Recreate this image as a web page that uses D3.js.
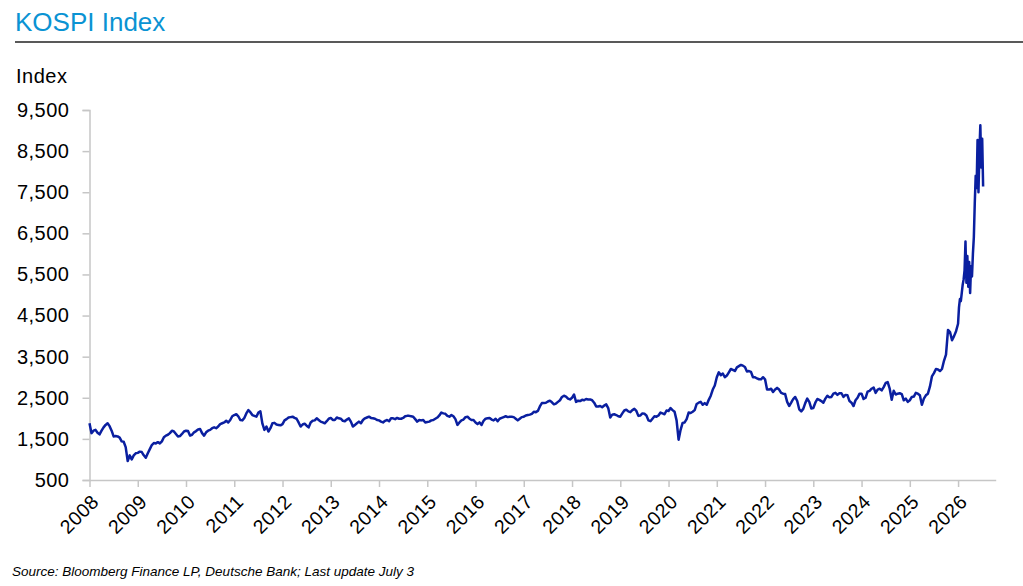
<!DOCTYPE html>
<html>
<head>
<meta charset="utf-8">
<script src="https://cdn.jsdelivr.net/npm/d3@7"></script>
<style>
  html, body { margin: 0; padding: 0; background: #fff; }
  svg { display: block; font-family: "Liberation Sans", Arial, Helvetica, sans-serif; }
</style>
</head>
<body>
<svg id="chart" width="1023" height="586"></svg>
<script>
// ---- DATA (KOSPI index, semi-monthly readings; 2026 weekly) ----
const title = "KOSPI Index";
const yAxisLabel = "Index";
const sourceNote = "Source: Bloomberg Finance LP, Deutsche Bank; Last update July 3";
const yearTicks = [2008,2009,2010,2011,2012,2013,2014,2015,2016,2017,2018,2019,2020,2021,2022,2023,2024,2025,2026];
const valueTicks = [500,1500,2500,3500,4500,5500,6500,7500,8500,9500];

const k2008 = [1880,1640,1700,1720,1650,1610,1700,1780,1840,1880,1810,1700,1560,1570,1560,1530,1440,1430,1300,960,1100,1000,1100,1150];
const k2009 = [1160,1190,1180,1100,1040,1150,1250,1350,1400,1390,1420,1390,1440,1540,1580,1600,1640,1700,1680,1620,1560,1570,1620,1680];
const k2010 = [1700,1690,1580,1600,1660,1690,1730,1740,1640,1580,1660,1700,1720,1760,1780,1760,1800,1860,1880,1900,1940,1900,1960,2050];
const k2011 = [2080,2100,2050,1960,1950,2010,2120,2200,2150,2080,2060,2040,2140,2170,1870,1720,1800,1680,1760,1880,1890,1850,1840,1830];
const k2012 = [1860,1950,1980,2020,2030,2040,2010,1990,1900,1800,1850,1870,1820,1780,1900,1940,1950,2000,1960,1920,1900,1880,1930,1990];
const k2013 = [2010,1960,1960,2020,2000,1990,1940,1930,1970,2000,1920,1800,1840,1880,1920,1880,1960,2000,2020,2040,2010,2000,1990,1960];
const k2014 = [1950,1920,1900,1940,1960,1930,2000,2000,1980,2010,1990,1990,2010,2050,2060,2060,2050,2040,1980,1920,1960,1950,1960,1900];
const k2015 = [1910,1920,1950,1960,1990,2020,2070,2140,2120,2110,2060,2040,2080,2050,1980,1840,1900,1950,1970,2030,2040,1990,1960,1960];
const k2016 = [1900,1860,1900,1840,1940,1990,2000,2010,1970,1950,1990,1930,1990,2010,2030,2050,2030,2040,2040,2030,1990,1950,1990,2030];
const k2017 = [2040,2070,2080,2090,2110,2160,2150,2180,2290,2370,2370,2380,2410,2430,2390,2340,2360,2400,2440,2520,2550,2530,2480,2460];
const k2018 = [2500,2580,2400,2430,2420,2450,2440,2470,2460,2460,2440,2380,2290,2290,2300,2270,2310,2340,2250,2020,2090,2100,2080,2050];
const k2019 = [2040,2120,2190,2210,2170,2150,2200,2230,2180,2060,2070,2120,2110,2070,1950,1930,1990,2050,2040,2070,2140,2120,2100,2190];
const k2020 = [2180,2250,2200,2160,1950,1480,1720,1890,1900,1980,2140,2130,2160,2200,2350,2380,2400,2330,2370,2330,2450,2550,2700,2800];
const k2021 = [3000,3120,3050,3090,3000,3040,3120,3200,3180,3150,3240,3270,3300,3280,3250,3140,3150,3130,3000,3000,2970,2950,2950,3000];
const k2022 = [2950,2700,2700,2720,2640,2700,2740,2700,2620,2600,2590,2400,2300,2380,2470,2520,2420,2220,2170,2230,2370,2480,2400,2240];
const k2023 = [2250,2380,2470,2450,2420,2380,2480,2550,2510,2520,2600,2620,2570,2610,2610,2520,2570,2560,2420,2380,2300,2440,2500,2600];
const k2024 = [2600,2470,2500,2650,2670,2720,2750,2620,2700,2720,2680,2760,2860,2880,2720,2450,2670,2580,2600,2610,2590,2440,2480,2400];
const k2025 = [2440,2520,2530,2620,2600,2560,2330,2480,2560,2600,2770,3020,3100,3200,3190,3150,3200,3400,3550,4150,4100,3900,4000,4120];
const k2026Weekly = [4300,4700,4900,4850,5050,5250,5380,5600,6300,5300,5950,5200,5800,5050,5700,5450,6000,6400,7230,7900,7600,8770,7500,8500,9130,8100,8800,7640];

// ---- build series ----
const semiMonthly = [k2008,k2009,k2010,k2011,k2012,k2013,k2014,k2015,k2016,k2017,k2018,k2019,k2020,k2021,k2022,k2023,k2024,k2025];
const series = [];
semiMonthly.forEach((arr, yi) => arr.forEach((v, i) => series.push({t: 2008 + yi + i / 24, v})));
k2026Weekly.forEach((v, i) => series.push({t: 2026 + i / 52, v}));

// ---- layout ----
const svg = d3.select("#chart");
const x = d3.scaleLinear().domain([2008, 2026.78]).range([89.5, 995.7]);
const y = d3.scaleLinear().domain([500, 9500]).range([480, 110]);
const axisColor = "#c6c6c6";

// title
svg.append("text").attr("x", 15).attr("y", 31)
  .attr("fill", "#0a93d3").attr("font-size", 26).text(title);
svg.append("line").attr("x1", 15).attr("x2", 1023).attr("y1", 42).attr("y2", 42)
  .attr("stroke", "#222").attr("stroke-width", 1.5);

// y label
svg.append("text").attr("x", 16).attr("y", 83).attr("font-size", 20)
  .attr("letter-spacing", 0.5).attr("fill", "#000").text(yAxisLabel);

// y axis
const yAxis = svg.append("g").attr("transform", "translate(89.5,0)")
  .call(d3.axisLeft(y).tickValues(valueTicks).tickFormat(d3.format(",")).tickSize(7).tickPadding(13));
yAxis.select(".domain").attr("stroke", axisColor).attr("stroke-width", 1.5);
yAxis.selectAll(".tick line").attr("stroke", axisColor).attr("stroke-width", 1.5);
yAxis.selectAll(".tick text").attr("fill", "#000").attr("font-size", 20).attr("letter-spacing", 0.5)
  .attr("font-family", "'Liberation Sans', Arial, sans-serif");

// x axis
const xAxis = svg.append("g").attr("transform", "translate(0,480)")
  .call(d3.axisBottom(x).tickValues(yearTicks).tickFormat(d3.format("d")).tickSize(7).tickSizeOuter(0));
xAxis.select(".domain").attr("stroke", axisColor).attr("stroke-width", 1.5);
xAxis.selectAll(".tick line").attr("stroke", axisColor).attr("stroke-width", 1.5);
xAxis.selectAll(".tick text")
  .attr("fill", "#000").attr("font-size", 19.5).attr("letter-spacing", 0.5)
  .attr("font-family", "'Liberation Sans', Arial, sans-serif")
  .attr("text-anchor", "end").attr("dy", null).attr("y", null)
  .attr("transform", "translate(10,23) rotate(-45)");

// line
const line = d3.line().x(d => x(d.t)).y(d => y(d.v));
svg.append("path").datum(series)
  .attr("fill", "none").attr("stroke", "#0a1fa0").attr("stroke-width", 2.5)
  .attr("stroke-linejoin", "round").attr("d", line);

// source
svg.append("text").attr("x", 12).attr("y", 576).attr("font-size", 13.5)
  .attr("font-style", "italic").attr("fill", "#000").text(sourceNote);
</script>
</body>
</html>
